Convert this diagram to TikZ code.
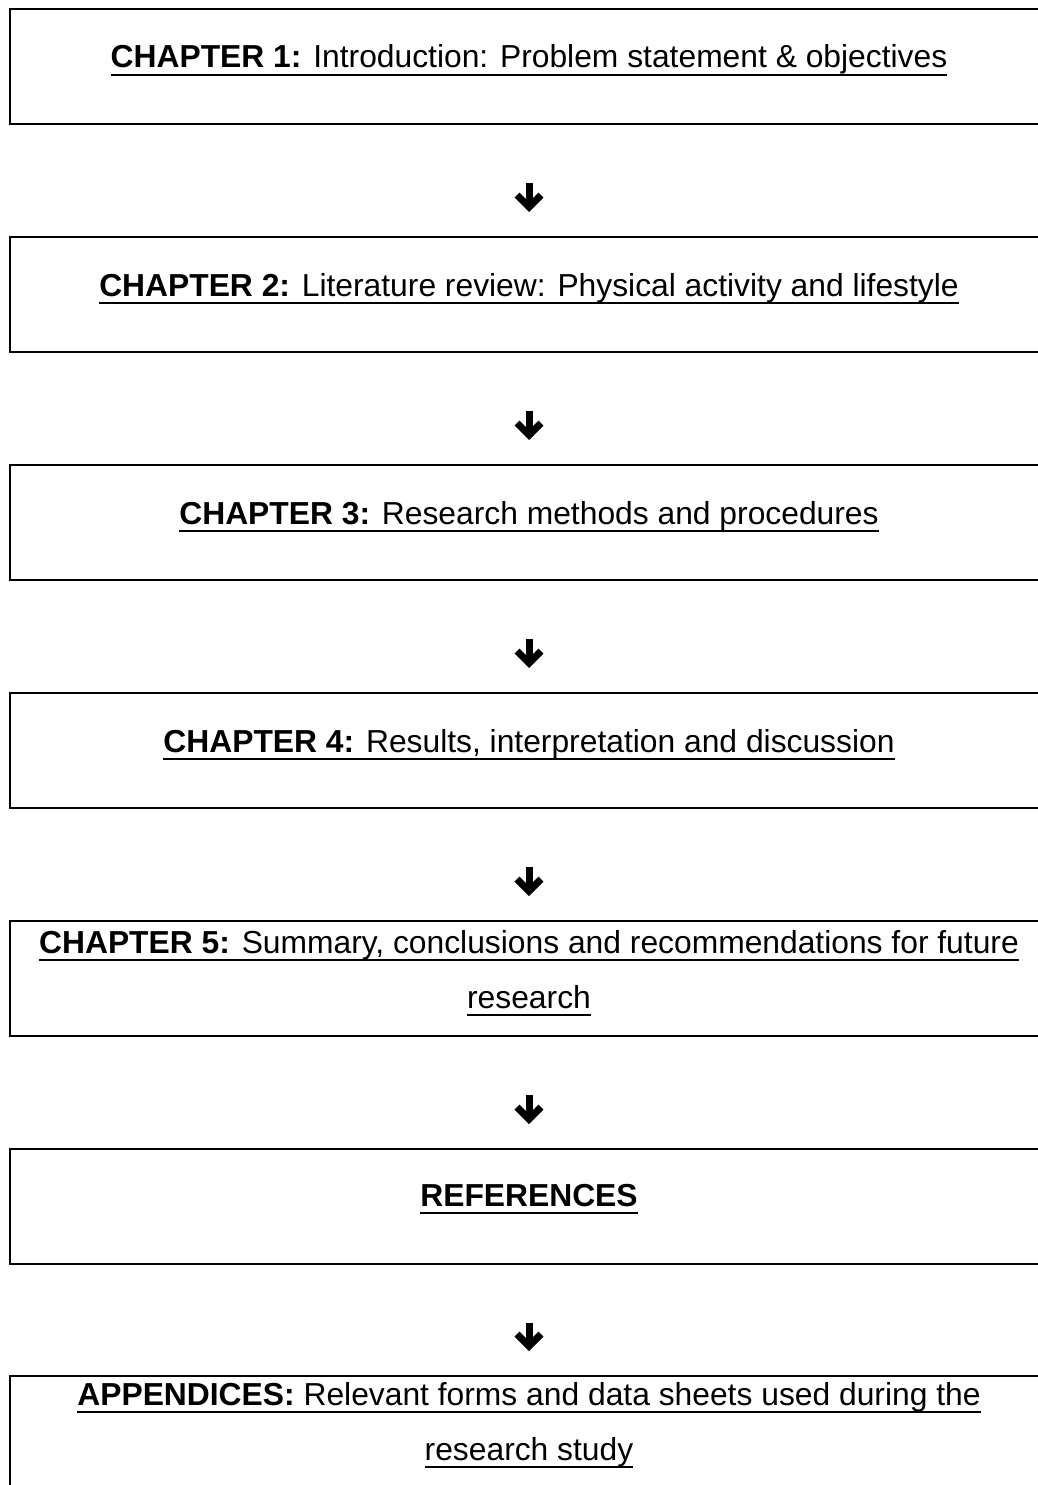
\documentclass[tikz,border=0pt]{standalone}
\usepackage{fontspec}
\setmainfont{Liberation Sans}
\usetikzlibrary{calc,arrows.meta}
\tikzset{
  box/.style={minimum width=1038pt, minimum height=115pt, inner sep=0pt, outer sep=0pt},
  frame/.style={line width=2pt},
  lbl/.style={anchor=base, inner sep=0pt, outer sep=0pt, font=\fontsize{31.8}{38}\selectfont},
  uline/.style={line width=2.4pt},
  flow/.style={line width=7pt, -{Straight Barb[length=12pt,width=24pt]}}
}
\newcommand\ulnode[3]{\node[lbl] (#1) at (#2) {#3};
  \draw[uline] ([yshift=-7pt]#1.base west) -- ([yshift=-7pt]#1.base east);}
\begin{document}
\begin{tikzpicture}[x=1pt,y=-1pt]
\useasboundingbox (0,0) rectangle (1038,1485);
\coordinate (R) at (1038,0);
% boxes
\node[box] (b1) at (529,66.5) {};
\node[box] (b2) at (529,294.5) {};
\node[box] (b3) at (529,522.5) {};
\node[box] (b4) at (529,750.5) {};
\node[box] (b5) at (529,978.5) {};
\node[box] (b6) at (529,1206.5) {};
\node[box] (b7) at (529,1433.5) {};
\foreach \b in {b1,b2,b3,b4,b5,b6}
  \draw[frame] (\b.north -| R) -- (\b.north west) -- (\b.south west) -- (\b.south -| R);
\draw[frame] (b7.north -| R) -- (b7.north west) -- (b7.south west);
% texts
\ulnode{t1}{$(b1.north)+(0,59)$}{\textbf{CHAPTER 1:} Introduction: Problem statement \& objectives}
\ulnode{t2}{$(b2.north)+(0,59)$}{\textbf{CHAPTER 2:} Literature review: Physical activity and lifestyle}
\ulnode{t3}{$(b3.north)+(0,59)$}{\textbf{CHAPTER 3:} Research methods and procedures}
\ulnode{t4}{$(b4.north)+(0,59)$}{\textbf{CHAPTER 4:} Results, interpretation and discussion}
\ulnode{t5a}{$(b5.north)+(0,32)$}{\textbf{CHAPTER 5:} Summary, conclusions and recommendations for future}
\ulnode{t5b}{$(b5.north)+(0,87)$}{research}
\ulnode{t6}{$(b6.north)+(0,57)$}{\textbf{REFERENCES}}
\ulnode{t7a}{$(b7.north)+(0,29)$}{\textbf{APPENDICES:} Relevant forms and data sheets used during the}
\ulnode{t7b}{$(b7.north)+(0,84)$}{research study}
% arrows
\foreach \a/\b in {b1/b2,b2/b3,b3/b4,b4/b5,b5/b6,b6/b7}
  \draw[flow] ($(\a.south)+(0,59)$) -- ($(\b.north)+(0,-25)$);
\end{tikzpicture}
\end{document}
